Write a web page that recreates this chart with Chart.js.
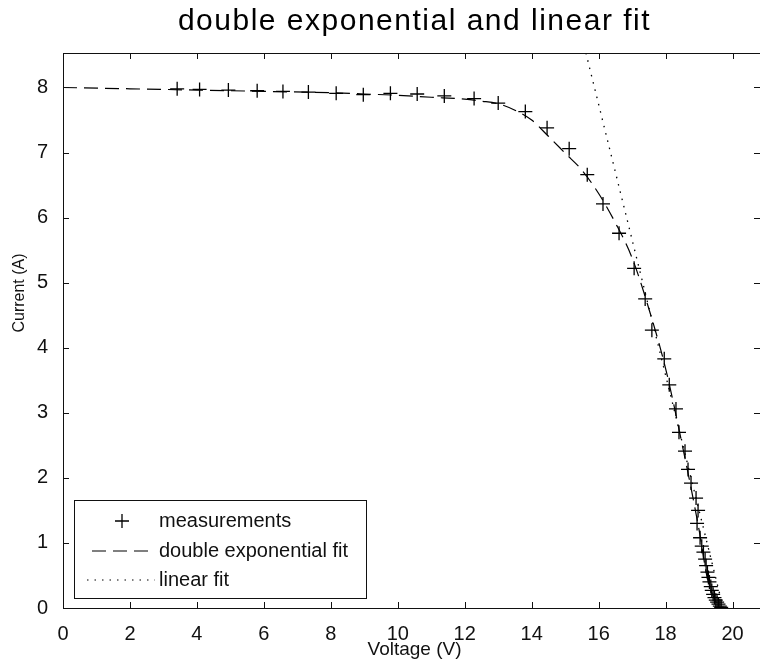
<!DOCTYPE html>
<html>
<head>
<meta charset="utf-8">
<title>double exponential and linear fit</title>
<script src="https://cdn.jsdelivr.net/npm/chart.js@4.4.0/dist/chart.umd.min.js"></script>
<style>
  html, body { margin: 0; padding: 0; background: #fff; overflow: hidden; }
  canvas { display: block; }
</style>
</head>
<body>
<canvas id="ivChart" width="760" height="667"></canvas>
<script>
const measVoltage = [3.41, 4.08, 4.94, 5.80, 6.57, 7.33, 8.16, 8.97, 9.78, 10.58, 11.39, 12.28, 13.0, 13.81, 14.46,
  15.12, 15.66, 16.13, 16.61, 17.06, 17.39, 17.59, 17.96, 18.11, 18.31, 18.40, 18.58, 18.67, 18.76, 18.91,
  18.94, 18.97, 19.03, 19.08, 19.13, 19.18, 19.21, 19.25, 19.28, 19.31, 19.35, 19.38, 19.42, 19.46, 19.50,
  19.54, 19.58, 19.62, 19.66];
const measCurrent = [7.98, 7.97, 7.96, 7.95, 7.94, 7.93, 7.91, 7.89, 7.91, 7.90, 7.87, 7.83, 7.76, 7.63, 7.38,
  7.06, 6.66, 6.21, 5.76, 5.22, 4.75, 4.27, 3.83, 3.43, 3.06, 2.70, 2.41, 2.13, 1.92, 1.69,
  1.30, 1.50, 1.08, 0.95, 0.86, 0.75, 0.65, 0.55, 0.47, 0.40, 0.33, 0.27, 0.21, 0.16, 0.12,
  0.09, 0.06, 0.03, 0.01];

// double exponential model curve
const fitVoltage = [0, 2, 4, 6, 8, 9, 10, 11, 12, 12.5, 13, 13.5, 14, 14.5, 15, 15.5, 16, 16.5, 17, 17.5,
  18, 18.5, 19, 19.25, 19.5, 19.62];
const fitCurrent = [8.0, 7.98, 7.96, 7.94, 7.92, 7.90, 7.88, 7.85, 7.82, 7.79, 7.75, 7.65, 7.50, 7.25, 6.99, 6.73,
  6.37, 5.92, 5.38, 4.60, 3.68, 2.50, 1.20, 0.45, 0.10, 0];

// linear fit near open circuit
const linVoltage = [15.62, 19.72];
const linCurrent = [8.53, 0];

const xTicks = [0, 2, 4, 6, 8, 10, 12, 14, 16, 18, 20];
const yTicks = [0, 1, 2, 3, 4, 5, 6, 7, 8];

const FONT = '"Liberation Sans", Arial, Helvetica, sans-serif';
const toPoints = (xs, ys) => xs.map((x, i) => ({ x, y: ys[i] }));

// MATLAB style box, inward ticks, legend and titles
const matlabFrame = {
  id: 'matlabFrame',
  afterDatasetsDraw(chart) {
    const { ctx, chartArea: a, scales: { x, y } } = chart;
    ctx.save();
    ctx.strokeStyle = '#111';
    ctx.lineWidth = 1;
    ctx.setLineDash([]);
    ctx.strokeRect(a.left + 0.5, a.top + 0.5, a.right - a.left, a.bottom - a.top);
    ctx.beginPath();
    x.ticks.forEach(t => {
      const px = Math.round(x.getPixelForValue(t.value)) + 0.5;
      ctx.moveTo(px, a.bottom); ctx.lineTo(px, a.bottom - 6);
      ctx.moveTo(px, a.top); ctx.lineTo(px, a.top + 6);
    });
    y.ticks.forEach(t => {
      const py = Math.round(y.getPixelForValue(t.value)) + 0.5;
      ctx.moveTo(a.left, py); ctx.lineTo(a.left + 6, py);
      ctx.moveTo(a.right, py); ctx.lineTo(a.right - 6, py);
    });
    ctx.stroke();

    // legend box
    const lx = a.left + 11, lr = a.left + 303;
    const lb = a.bottom - 10, lt = a.bottom - 108;
    ctx.fillStyle = '#fff';
    ctx.fillRect(lx, lt, lr - lx, lb - lt);
    ctx.strokeRect(lx + 0.5, lt + 0.5, lr - lx, lb - lt);
    const rows = [lt + 21, lt + 51, lt + 80];
    const ds = chart.data.datasets;
    ctx.strokeStyle = '#000';
    // + marker
    ctx.lineWidth = 1.3;
    ctx.beginPath();
    ctx.moveTo(lx + 41, rows[0]); ctx.lineTo(lx + 55, rows[0]);
    ctx.moveTo(lx + 48, rows[0] - 7); ctx.lineTo(lx + 48, rows[0] + 7);
    ctx.stroke();
    // dashed sample
    ctx.lineWidth = 1.2;
    ctx.setLineDash(ds[1].borderDash);
    ctx.beginPath();
    ctx.moveTo(lx + 18, rows[1]); ctx.lineTo(lx + 78, rows[1]);
    ctx.stroke();
    // dotted sample
    ctx.setLineDash(ds[2].borderDash);
    ctx.beginPath();
    ctx.moveTo(lx + 13, rows[2]); ctx.lineTo(lx + 81, rows[2]);
    ctx.stroke();
    ctx.setLineDash([]);
    ctx.fillStyle = '#111';
    ctx.font = '20px ' + FONT;
    ctx.textBaseline = 'middle';
    ctx.textAlign = 'left';
    ds.forEach((d, i) => ctx.fillText(d.label, lx + 85, rows[i]));
    ctx.restore();
  },
  afterDraw(chart) {
    const { ctx, chartArea: a, scales: { x } } = chart;
    // centre of the full axes box (x 0..21), part of which is cut off on the right
    const cx = (a.left + x.getPixelForValue(21)) / 2;
    ctx.save();
    ctx.fillStyle = '#000';
    ctx.textAlign = 'center';
    ctx.textBaseline = 'alphabetic';
    // title
    ctx.font = '30px ' + FONT;
    ctx.letterSpacing = '1.5px';
    ctx.fillText('double exponential and linear fit', cx, 30);
    ctx.letterSpacing = '0px';
    // x label
    ctx.font = '19px ' + FONT;
    ctx.textBaseline = 'middle';
    ctx.fillStyle = '#111';
    ctx.fillText('Voltage (V)', cx, 650);
    // y label
    ctx.font = '16px ' + FONT;
    ctx.translate(20, 293);
    ctx.rotate(-Math.PI / 2);
    ctx.fillText('Current (A)', 0, 0);
    ctx.restore();
  }
};

new Chart(document.getElementById('ivChart'), {
  type: 'scatter',
  data: {
    datasets: [
      {
        label: 'measurements',
        data: toPoints(measVoltage, measCurrent),
        showLine: false,
        pointStyle: 'cross',
        pointRadius: 7,
        pointHoverRadius: 7,
        pointBorderWidth: 1.3,
        borderColor: '#000',
        backgroundColor: '#000'
      },
      {
        label: 'double exponential fit',
        data: toPoints(fitVoltage, fitCurrent),
        showLine: true,
        pointRadius: 0,
        borderColor: '#000',
        borderWidth: 1.2,
        borderDash: [14, 7],
        cubicInterpolationMode: 'monotone'
      },
      {
        label: 'linear fit',
        data: toPoints(linVoltage, linCurrent),
        showLine: true,
        pointRadius: 0,
        borderColor: '#000',
        borderWidth: 1.3,
        borderDash: [1.5, 6]
      }
    ]
  },
  options: {
    responsive: false,
    animation: false,
    devicePixelRatio: 1,
    events: [],
    // picture is cropped just inside the right axis line
    layout: { autoPadding: false, padding: { top: 53, right: 0, left: 0, bottom: 0 } },
    plugins: {
      legend: { display: false },
      title: { display: false },
      tooltip: { enabled: false }
    },
    scales: {
      x: {
        type: 'linear',
        min: 0,
        max: 20.82,
        grid: { display: false },
        border: { display: false },
        afterBuildTicks: s => { s.ticks = xTicks.map(v => ({ value: v })); },
        afterFit: s => { s.height = 59; },
        ticks: { color: '#111', font: { family: FONT, size: 20 }, padding: 6, maxRotation: 0 }
      },
      y: {
        type: 'linear',
        min: 0,
        max: 8.53,
        grid: { display: false },
        border: { display: false },
        afterBuildTicks: s => { s.ticks = yTicks.map(v => ({ value: v })); },
        afterFit: s => { s.width = 63; },
        ticks: { color: '#111', font: { family: FONT, size: 20 }, padding: 7 }
      }
    }
  },
  plugins: [matlabFrame]
});
</script>
</body>
</html>
